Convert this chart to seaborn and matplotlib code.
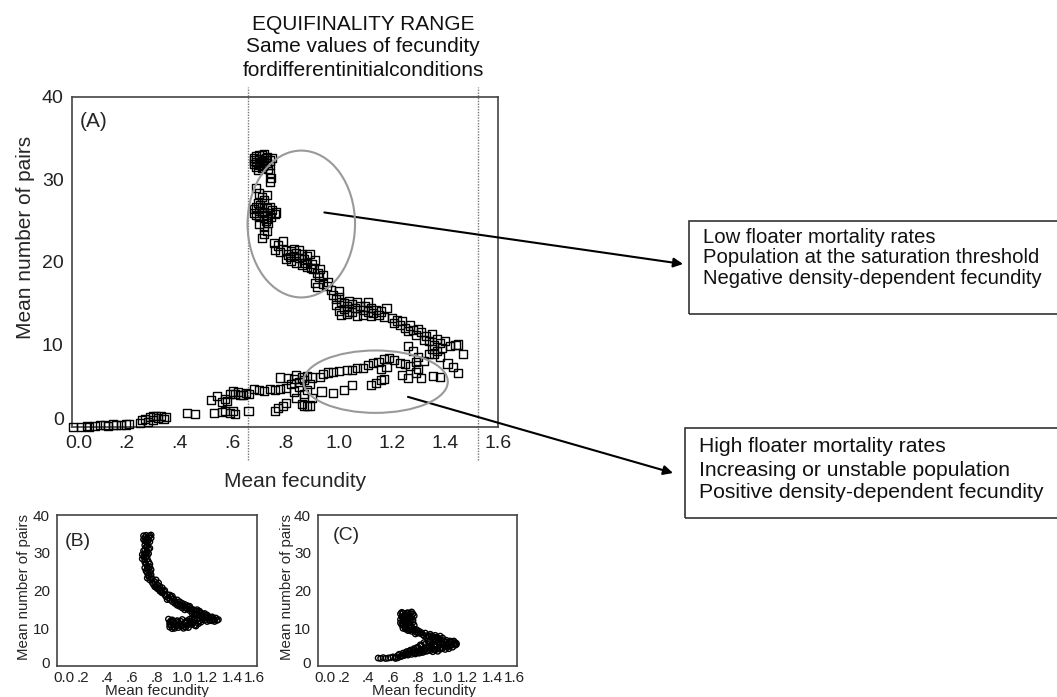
import numpy as np
import pandas as pd
import matplotlib
matplotlib.use("Agg")
import matplotlib.pyplot as plt
from matplotlib.patches import Ellipse, Rectangle
from matplotlib.transforms import ScaledTranslation
import seaborn as sns

# ---- data: (mean fecundity, mean number of pairs) ----
# panel A, upper (negative density-dependence) branch
A_UPPER = [
    (0.68, 32.6), (0.69, 32.8), (0.70, 32.5), (0.71, 32.9), (0.72, 32.4), (0.73, 32.7),
    (0.74, 32.3), (0.68, 31.9), (0.69, 32.1), (0.70, 31.8), (0.71, 32.2), (0.72, 31.7),
    (0.73, 32.0), (0.69, 31.5), (0.71, 31.4), (0.70, 33.0), (0.72, 33.1), (0.74, 31.8),
    (0.75, 32.6), (0.68, 32.3), (0.705, 32.0), (0.715, 31.6), (0.725, 32.6), (0.695, 31.2),
    (0.735, 31.3), (0.74, 30.8), (0.745, 30.2), (0.74, 29.7), (0.69, 29.0), (0.70, 28.3),
    (0.71, 27.9), (0.73, 28.1), (0.72, 27.5), (0.695, 27.2),
    (0.68, 26.4), (0.69, 26.6), (0.70, 26.2), (0.71, 26.7), (0.72, 26.1), (0.73, 26.5),
    (0.74, 25.9), (0.75, 26.3), (0.76, 25.8), (0.69, 25.7), (0.70, 25.4), (0.72, 25.6),
    (0.73, 25.2), (0.71, 25.9), (0.74, 26.7), (0.765, 26.0), (0.68, 25.9), (0.705, 26.9),
    (0.725, 25.0), (0.745, 25.4), (0.70, 24.6), (0.72, 24.3), (0.735, 24.7), (0.73, 23.8),
    (0.72, 23.4), (0.71, 22.9),
    (0.755, 22.3), (0.77, 22.0), (0.79, 22.5), (0.76, 21.5), (0.78, 21.2), (0.80, 21.4),
    (0.81, 20.9), (0.82, 21.3), (0.83, 20.7), (0.84, 21.1), (0.85, 20.5), (0.86, 20.9),
    (0.87, 20.3), (0.88, 20.7), (0.80, 20.4), (0.82, 20.1), (0.84, 19.9), (0.86, 19.6),
    (0.88, 19.4), (0.90, 19.8), (0.91, 20.2), (0.89, 21.0), (0.83, 21.6), (0.85, 21.4),
    (0.815, 20.6), (0.875, 19.9), (0.895, 19.3), (0.905, 19.2), (0.92, 18.7), (0.93, 19.2),
    (0.925, 18.2), (0.94, 18.4), (0.91, 17.5), (0.92, 17.0), (0.94, 17.3), (0.96, 17.6),
    (0.955, 17.1), (0.97, 16.6),
    (0.98, 16.0), (0.99, 15.5), (1.00, 15.8), (1.01, 15.2), (0.99, 14.8), (1.02, 15.0),
    (1.03, 14.6), (1.04, 15.3), (1.05, 14.9), (1.06, 14.4), (1.07, 15.1), (1.08, 14.7),
    (1.09, 14.2), (1.10, 14.6), (1.11, 14.0), (1.12, 14.4), (1.13, 13.8), (1.14, 14.2),
    (1.15, 13.6), (1.16, 14.0), (1.00, 14.1), (1.01, 13.6), (1.03, 13.7), (1.05, 13.9),
    (1.07, 13.5), (1.09, 13.6), (1.02, 14.3), (1.04, 14.0), (1.11, 15.2), (1.12, 13.4),
    (1.17, 13.3), (1.18, 14.4), (1.00, 16.5),
    (1.20, 13.2), (1.21, 12.6), (1.22, 12.9), (1.23, 12.4), (1.24, 12.8), (1.25, 12.0),
    (1.26, 11.6), (1.27, 12.3), (1.28, 11.8), (1.29, 11.2), (1.30, 11.9), (1.31, 11.5),
    (1.32, 10.5), (1.33, 11.0), (1.34, 10.4), (1.35, 11.3), (1.36, 9.9), (1.37, 10.7),
    (1.38, 10.2), (1.35, 9.5), (1.36, 8.8), (1.37, 9.2), (1.38, 8.5), (1.39, 9.6),
    (1.42, 9.8), (1.44, 9.9), (1.45, 10.0), (1.47, 8.8), (1.40, 10.4),
]

# panel A, lower (positive density-dependence) branch
A_LOWER = [
    (0.00, 0.0), (0.03, 0.0), (0.05, 0.1), (0.06, 0.0), (0.08, 0.1), (0.10, 0.2),
    (0.12, 0.2), (0.13, 0.1), (0.15, 0.3), (0.16, 0.2), (0.18, 0.2), (0.20, 0.3),
    (0.21, 0.4), (0.25, 0.5), (0.26, 0.9), (0.27, 1.0), (0.28, 0.6), (0.29, 1.2),
    (0.30, 0.8), (0.31, 1.3), (0.32, 1.1), (0.33, 1.3), (0.34, 1.0), (0.35, 1.2),
    (0.30, 1.3), (0.43, 1.7), (0.46, 1.6), (0.53, 1.7), (0.56, 1.8), (0.57, 1.9),
    (0.59, 1.7), (0.60, 1.9), (0.61, 1.6), (0.66, 1.9),
    (0.52, 3.3), (0.54, 3.8), (0.56, 3.0), (0.57, 3.4), (0.58, 3.2), (0.59, 4.0),
    (0.60, 4.3), (0.61, 4.0), (0.62, 4.2), (0.63, 3.9), (0.64, 3.9), (0.65, 4.1),
    (0.66, 4.0), (0.68, 4.6), (0.70, 4.5), (0.72, 4.4), (0.74, 4.6), (0.76, 4.5),
    (0.78, 4.6), (0.76, 1.9), (0.77, 2.3), (0.79, 2.5), (0.80, 2.9), (0.84, 3.5),
    (0.86, 2.8), (0.87, 2.6), (0.88, 2.5), (0.89, 2.6),
    (0.78, 6.0), (0.81, 5.9), (0.80, 4.7), (0.82, 5.2), (0.83, 5.8), (0.84, 6.3),
    (0.85, 5.4), (0.86, 6.0), (0.87, 5.7), (0.88, 6.2), (0.89, 5.2), (0.90, 6.0),
    (0.85, 4.8), (0.87, 4.0), (0.88, 4.5), (0.90, 3.5), (0.83, 4.3),
    (0.93, 6.1), (0.94, 6.4), (0.96, 6.6), (0.98, 6.7), (1.00, 6.8), (1.03, 6.9),
    (1.05, 6.9), (1.07, 7.1), (1.09, 7.2), (1.11, 7.5), (1.13, 7.8), (1.15, 7.9),
    (1.17, 8.2), (1.19, 8.4), (1.21, 8.1), (1.23, 7.8), (1.25, 7.6), (1.27, 7.4),
    (1.29, 7.9), (1.18, 7.3), (1.16, 7.0),
    (0.935, 4.3), (0.98, 4.1), (1.02, 4.5), (1.05, 5.1), (1.12, 5.1), (1.14, 5.3),
    (1.16, 5.7), (1.17, 5.8), (1.24, 6.3), (1.26, 5.9), (1.31, 5.9), (1.355, 6.2),
    (1.38, 6.1), (1.26, 9.8), (1.28, 9.2), (1.30, 8.5), (1.32, 8.0), (1.34, 8.8),
    (1.30, 7.0), (1.29, 6.6), (1.41, 7.7), (1.43, 7.3), (1.45, 6.5),
]

# panel B
B_POINTS = [
    (0.69, 34.5), (0.70, 34.0), (0.71, 34.6), (0.72, 33.8), (0.73, 34.3), (0.74, 34.5),
    (0.75, 33.9), (0.70, 33.2), (0.72, 32.6), (0.74, 32.9), (0.71, 31.5), (0.73, 31.0),
    (0.70, 30.8), (0.72, 30.3), (0.70, 29.6), (0.68, 29.5), (0.69, 29.0), (0.68, 28.4),
    (0.70, 28.1), (0.71, 28.9), (0.72, 29.3), (0.73, 27.6), (0.71, 27.0), (0.72, 26.4),
    (0.73, 25.8), (0.75, 25.5), (0.71, 25.2), (0.72, 24.6), (0.74, 24.9), (0.73, 24.0),
    (0.72, 23.3), (0.74, 22.8), (0.75, 23.5), (0.76, 22.1), (0.77, 21.6), (0.78, 22.3),
    (0.79, 21.0), (0.80, 21.5), (0.81, 20.6), (0.82, 21.1), (0.83, 20.2), (0.84, 20.7),
    (0.85, 19.9), (0.83, 19.6), (0.86, 18.9), (0.87, 18.4), (0.88, 18.9), (0.89, 18.1),
    (0.90, 17.6), (0.91, 18.3), (0.92, 17.1), (0.93, 17.8), (0.94, 17.3), (0.95, 16.8),
    (0.96, 17.5), (0.97, 16.4), (0.98, 17.0), (0.99, 16.2), (1.00, 16.6), (1.01, 15.8),
    (1.02, 16.3), (1.03, 15.5), (1.04, 15.1), (1.05, 15.6), (1.06, 14.7), (1.07, 15.2),
    (1.08, 14.4), (1.09, 14.9), (1.10, 14.1), (1.11, 14.6), (1.12, 13.8), (1.13, 14.3),
    (1.14, 13.5), (1.15, 14.0), (1.16, 13.2), (1.17, 13.7), (1.18, 12.9), (1.19, 13.4),
    (1.20, 12.6), (1.21, 13.1), (1.22, 12.3), (1.23, 12.8), (1.24, 12.0), (1.25, 12.5),
    (1.26, 12.2), (1.27, 12.7), (1.28, 12.1), (1.29, 12.3),
    (0.69, 33.5), (0.71, 33.0), (0.73, 33.4), (0.75, 34.7), (0.70, 32.0), (0.72, 31.8),
    (0.74, 31.2), (0.69, 30.5), (0.71, 30.0), (0.73, 29.8), (0.70, 27.5), (0.72, 28.3),
    (0.74, 27.0), (0.70, 26.0), (0.72, 25.6), (0.74, 26.2), (0.73, 23.8), (0.75, 24.2),
    (0.76, 23.0), (0.78, 21.0), (0.80, 20.5), (0.82, 19.9), (0.79, 22.8), (0.81, 22.0),
    (0.84, 19.4), (0.86, 20.0), (0.88, 17.6), (0.90, 18.8), (0.92, 18.5), (0.94, 16.6),
    (0.96, 16.1), (0.98, 15.8), (1.00, 15.4), (1.02, 14.9), (1.04, 16.0), (1.06, 15.8),
    (1.08, 13.9), (1.10, 13.4), (1.12, 14.9), (1.14, 14.5), (1.16, 12.7), (1.18, 13.9),
    (1.20, 13.5), (1.22, 12.0), (1.24, 13.0), (1.26, 11.8),
    (0.89, 12.4), (0.90, 11.6), (0.91, 10.8), (0.92, 12.2), (0.93, 10.4), (0.94, 11.3),
    (0.95, 10.6), (0.96, 12.0), (0.97, 10.2), (0.98, 11.1), (0.99, 10.5), (1.00, 12.3),
    (1.01, 10.0), (1.02, 11.4), (1.03, 10.3), (1.04, 12.0), (1.05, 11.0), (1.06, 12.4),
    (1.07, 11.8), (1.08, 12.6), (1.09, 11.5), (1.10, 12.2), (1.11, 10.6), (1.12, 12.5),
    (1.14, 12.0), (1.16, 12.3), (0.90, 10.3), (0.92, 9.9), (0.95, 11.8),
    (0.90, 11.0), (0.91, 12.0), (0.93, 11.7), (0.94, 10.0), (0.96, 10.8), (0.97, 11.6),
    (0.99, 11.8), (1.00, 10.7), (1.02, 10.4), (1.03, 11.7), (1.05, 10.2), (1.06, 11.2),
    (1.08, 11.0), (1.10, 10.8), (1.09, 12.3), (1.13, 11.2), (1.15, 11.6), (1.18, 12.2),
    (1.20, 11.8),
]

# panel C
C_POINTS = [
    (0.66, 13.8), (0.68, 14.0), (0.70, 13.7), (0.72, 14.1), (0.74, 13.9), (0.76, 13.8),
    (0.67, 13.0), (0.69, 12.6), (0.71, 13.2), (0.73, 12.8), (0.75, 13.1), (0.68, 11.9),
    (0.70, 11.5), (0.72, 12.0), (0.74, 11.7), (0.76, 12.2), (0.67, 10.9), (0.69, 10.5),
    (0.71, 11.1), (0.73, 10.7), (0.75, 10.3), (0.77, 10.8), (0.70, 9.8), (0.72, 9.4),
    (0.74, 9.9), (0.76, 9.5), (0.78, 9.1), (0.80, 8.8), (0.79, 9.6), (0.82, 8.6),
    (0.84, 8.3), (0.86, 8.7), (0.88, 8.1), (0.90, 8.4), (0.92, 7.8), (0.94, 8.1),
    (0.96, 7.5), (0.98, 7.9), (0.78, 8.5),
    (0.67, 14.2), (0.69, 13.4), (0.71, 14.0), (0.73, 13.5), (0.75, 14.3), (0.77, 13.3),
    (0.66, 12.3), (0.68, 12.8), (0.70, 12.2), (0.72, 12.5), (0.74, 12.4), (0.76, 11.6),
    (0.66, 11.4), (0.68, 11.2), (0.70, 10.8), (0.72, 11.3), (0.74, 10.6), (0.68, 10.0),
    (0.71, 9.9), (0.73, 9.6), (0.75, 9.2), (0.77, 9.8), (0.79, 8.9), (0.81, 9.2),
    (0.83, 8.8), (0.85, 8.0), (0.87, 7.6), (0.89, 7.8), (0.91, 8.0), (0.93, 7.3),
    (0.95, 7.6), (0.97, 7.2), (1.00, 7.4),
    (0.48, 2.1), (0.50, 2.0), (0.52, 2.2), (0.54, 2.0), (0.56, 2.1), (0.58, 2.2),
    (0.60, 2.4), (0.62, 2.3), (0.64, 2.8), (0.65, 3.1), (0.67, 2.6), (0.68, 3.4),
    (0.70, 3.0), (0.71, 3.8), (0.73, 3.3), (0.74, 4.2), (0.76, 3.6), (0.77, 4.6),
    (0.79, 3.9), (0.80, 5.0), (0.82, 4.3), (0.83, 5.4), (0.85, 4.6), (0.86, 5.8),
    (0.88, 4.9), (0.89, 6.2), (0.91, 5.2), (0.92, 6.5), (0.94, 5.5), (0.95, 6.8),
    (0.97, 5.8), (0.98, 7.0), (1.00, 6.1), (1.01, 6.7), (1.03, 6.3), (1.04, 5.5),
    (1.06, 6.6), (1.07, 5.8), (1.09, 6.0), (1.10, 5.5), (1.11, 5.7), (0.84, 3.6),
    (0.87, 3.9), (0.90, 4.1), (0.93, 4.4), (0.96, 4.6), (0.99, 4.9), (1.02, 5.2),
    (1.05, 4.6), (0.78, 3.2), (0.81, 3.4),
    (0.62, 2.0), (0.64, 2.2), (0.66, 2.5), (0.69, 2.8), (0.72, 2.9), (0.75, 3.1),
    (0.78, 3.5), (0.80, 3.8), (0.82, 3.6), (0.83, 4.0), (0.85, 3.9), (0.86, 4.4),
    (0.88, 4.1), (0.89, 5.0), (0.91, 4.6), (0.92, 3.8), (0.93, 5.6), (0.94, 4.2),
    (0.95, 5.1), (0.96, 3.9), (0.97, 6.4), (0.98, 4.4), (0.99, 5.6), (1.00, 4.7),
    (1.01, 5.9), (1.02, 4.4), (1.03, 6.8), (1.04, 5.0), (1.05, 6.0), (1.06, 5.3),
    (1.07, 6.4), (1.08, 5.0), (1.09, 6.6), (1.10, 6.2), (1.11, 6.0), (0.88, 6.6),
    (0.90, 7.0), (0.85, 6.2), (0.82, 5.6), (0.79, 4.8), (0.76, 4.2), (0.73, 3.9),
    (0.70, 3.5),
]

X_TICKS = [0.0, 0.2, 0.4, 0.6, 0.8, 1.0, 1.2, 1.4, 1.6]
X_TICK_LABELS = ["0.0", ".2", ".4", ".6", ".8", "1.0", "1.2", "1.4", "1.6"]
Y_TICKS = [0, 10, 20, 30, 40]
EQUIFINALITY = [0.657, 1.523]

TITLE_LINES = ["EQUIFINALITY RANGE", "Same values of fecundity",
               "fordifferentinitialconditions"]
LOW_BOX = ["Low floater mortality rates",
           "Population at the saturation threshold",
           "Negative density-dependent fecundity"]
HIGH_BOX = ["High floater mortality rates",
            "Increasing or unstable population",
            "Positive density-dependent fecundity"]


def to_frame(points):
    return pd.DataFrame(points, columns=["fecundity", "pairs"])


def style_axes(ax, tick_size, pad, length=4):
    ax.set_xlim(-0.005, 1.6)
    ax.set_ylim(0, 40)
    ax.set_xticks(X_TICKS)
    ax.set_xticklabels(X_TICK_LABELS)
    ax.set_yticks(Y_TICKS)
    ax.tick_params(direction="out", length=length, width=1, color="#333333",
                   labelsize=tick_size, pad=pad, labelcolor="#222222")
    for sp in ax.spines.values():
        sp.set_visible(True)
        sp.set_color("#444444")
        sp.set_linewidth(1.2)


def nudge(label, dx, dy):
    # shift a tick label by a few pixels, as in the original artwork
    label.set_transform(label.get_transform()
                        + ScaledTranslation(dx / 100, dy / 100, fig.dpi_scale_trans))


sns.set_theme(style="white")
plt.rcParams["font.family"] = ["Liberation Sans", "DejaVu Sans"]

fig = plt.figure(figsize=(10.57, 6.97), dpi=100)
ax_a = fig.add_axes([0.0681, 0.3874, 0.4030, 0.4735])
ax_b = fig.add_axes([0.0539, 0.0445, 0.1892, 0.2166])
ax_c = fig.add_axes([0.3009, 0.0445, 0.1883, 0.2166])

# panel A: open squares
df_a = pd.concat([to_frame(A_UPPER), to_frame(A_LOWER)], ignore_index=True)
sns.scatterplot(data=df_a, x="fecundity", y="pairs", ax=ax_a, marker="s", s=34,
                facecolor="none", edgecolor="black", linewidth=1.0, clip_on=False,
                zorder=3)
style_axes(ax_a, 14, 2)
nudge(ax_a.get_xticklabels()[0], 6, 0)
nudge(ax_a.get_yticklabels()[0], 0, 8)
ax_a.set_ylabel("Mean number of pairs", fontsize=15, va="center")
ax_a.yaxis.set_label_coords(-0.11, 0.573)
ax_a.set_xlabel("Mean fecundity", fontsize=15, va="center")
ax_a.xaxis.set_label_coords(0.523, -0.164)
ax_a.text(0.075, 37.0, "(A)", fontsize=15, ha="center", va="center")

# equifinality range limits (dotted, running past the frame)
for xv in EQUIFINALITY:
    ax_a.plot([xv, xv], [-4.0, 41.2], linestyle=(0, (1, 1)), color="#777777",
              lw=1.0, clip_on=False, zorder=1)

ax_a.add_patch(Ellipse((0.859, 24.6), 0.405, 17.8, fill=False,
                       edgecolor="#999999", lw=1.5, zorder=4))
ax_a.add_patch(Ellipse((1.139, 5.49), 0.544, 7.56, fill=False,
                       edgecolor="#999999", lw=1.5, zorder=4))

arrow = dict(arrowstyle="-|>", color="black", lw=1.5, mutation_scale=14,
             shrinkA=0, shrinkB=0)
ax_a.annotate("", xy=(0.6462, 0.6212), xycoords="figure fraction",
              xytext=(0.946, 26.0), textcoords="data", arrowprops=arrow)
ax_a.annotate("", xy=(0.6367, 0.3214), xycoords="figure fraction",
              xytext=(1.261, 3.65), textcoords="data", arrowprops=arrow)

# header above panel A
for i, line in enumerate(TITLE_LINES):
    fig.text(363 / 1057, 1 - (24 + 23 * i) / 697, line, fontsize=15,
             ha="center", va="center", color="#111111")

# explanatory boxes (they run off the right edge)
W, H = 1057, 697
for left, top, bottom, lines, ys, tx, fs in [
        (689, 221, 314, LOW_BOX, [237, 257.5, 278], 703, 14.6),
        (685, 428, 518, HIGH_BOX, [447, 470, 492], 699, 15.2)]:
    fig.patches.append(Rectangle((left / W, 1 - bottom / H), 0.5, (bottom - top) / H,
                                 transform=fig.transFigure, fill=False,
                                 edgecolor="#333333", lw=1.2, clip_on=False))
    for y, line in zip(ys, lines):
        fig.text(tx / W, 1 - y / H, line, fontsize=fs, ha="left", va="center",
                 color="#111111")

# panels B and C: small open circles
for ax, pts, label, lx, ly, xlx in [(ax_b, B_POINTS, "(B)", 0.16, 33.0, 0.5),
                                    (ax_c, C_POINTS, "(C)", 0.225, 34.5, 0.53)]:
    sns.scatterplot(data=to_frame(pts), x="fecundity", y="pairs", ax=ax, marker="o",
                    s=16, facecolor="none", edgecolor="black", linewidth=1.0,
                    clip_on=False, zorder=3)
    style_axes(ax, 11, 0.5, length=3)
    ax.tick_params(axis="y", pad=2)
    nudge(ax.get_xticklabels()[0], 6, 0)
    nudge(ax.get_xticklabels()[-1], -3, 0)
    nudge(ax.get_yticklabels()[0], 0, 3)
    ax.set_ylabel("Mean number of pairs", fontsize=10.8, va="center")
    ax.set_xlabel("Mean fecundity", fontsize=11, va="center")
    ax.xaxis.set_label_coords(xlx, -0.165)
    ax.text(lx, ly, label, fontsize=14, ha="center", va="center")
ax_b.yaxis.set_label_coords(-0.165, 0.52)
ax_c.yaxis.set_label_coords(-0.155, 0.52)

fig.savefig("out.png", dpi=100)
